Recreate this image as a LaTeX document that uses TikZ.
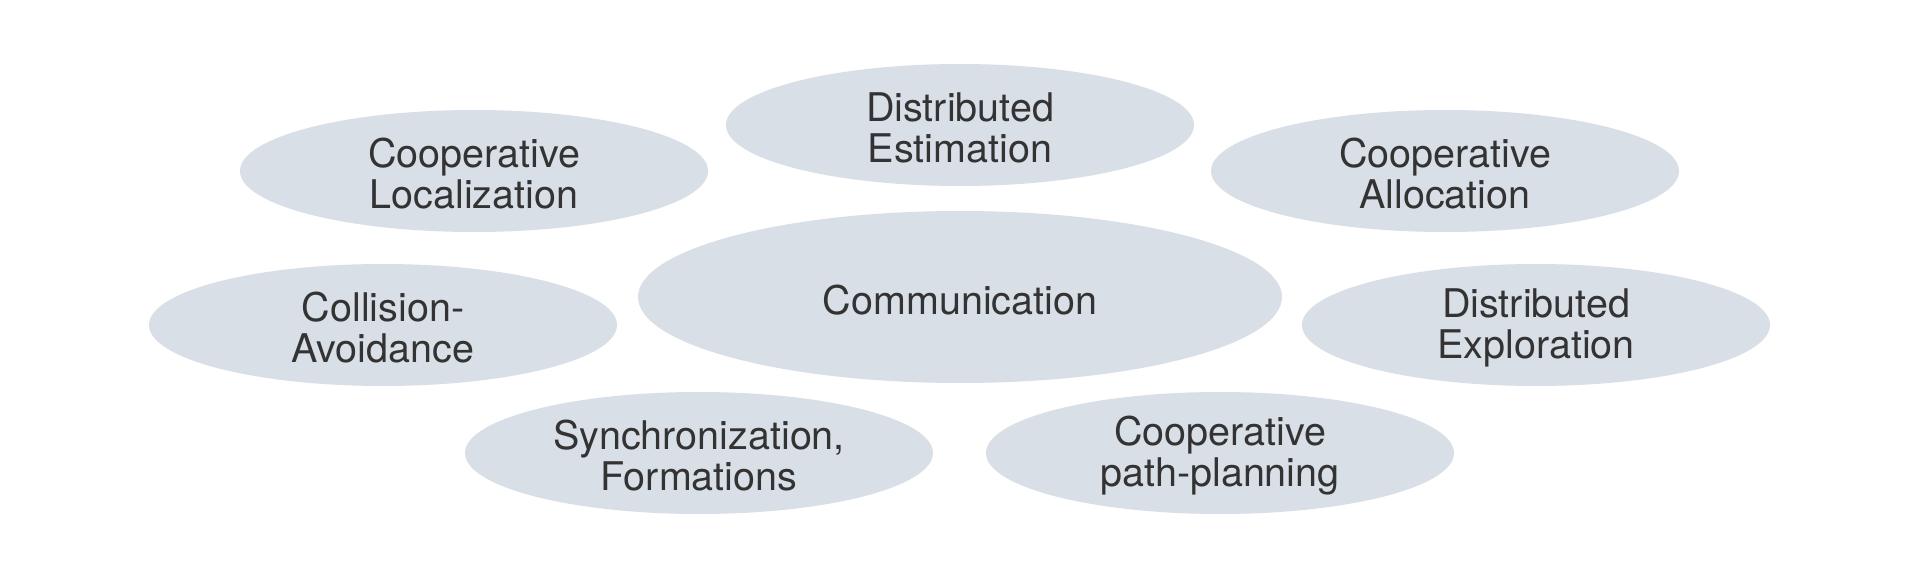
\documentclass[tikz,border=0pt]{standalone}
\usepackage{fontspec}
\setmainfont{TeX Gyre Heros}
\usetikzlibrary{shapes.geometric}
\definecolor{blobfill}{HTML}{D9DFE7}
\definecolor{blobtext}{HTML}{333333}
\tikzset{
  blobtxt/.style={align=center, text=blobtext, inner sep=0pt, yshift=-3pt,
    font=\fontsize{39.5}{41}\selectfont},
  blob/.style={ellipse, fill=blobfill, draw=none, inner sep=0pt,
    minimum width=468pt, minimum height=122pt,
    label={[blobtxt]center:#1}},
  bigblob/.style={blob=#1, minimum width=644pt, minimum height=172pt}
}
\begin{document}
\begin{tikzpicture}[x=1pt,y=-1pt]
\useasboundingbox[fill=white] (0,0) rectangle (1920,577);
\node[bigblob={Communication}] (comm) at (960,297) {};
\node[blob={Distributed\\Estimation}] (de) at (960,125) {};
\node[blob={Cooperative\\Localization}] (cl) at (474,171) {};
\node[blob={Cooperative\\Allocation}] (ca) at (1445,171) {};
\node[blob={Collision-\\Avoidance}] (coll) at (383,325) {};
\node[blob={Distributed\\Exploration}] (dexp) at (1536,325) {};
\node[blob={Synchronization,\\Formations}] (sync) at (699,453) {};
\node[blob={Cooperative\\path-planning}] (cpp) at (1220,453) {};
\end{tikzpicture}
\end{document}
